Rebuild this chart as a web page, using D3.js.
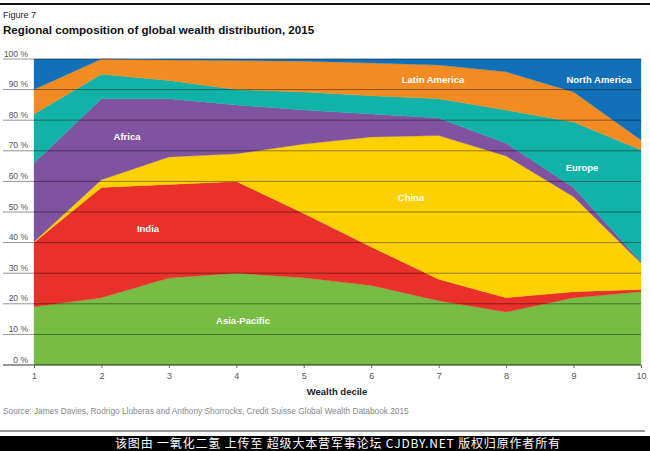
<!DOCTYPE html>
<html><head><meta charset="utf-8">
<script src="https://cdn.jsdelivr.net/npm/d3@7"></script>
<style>
html,body{margin:0;padding:0;background:#fff;}
svg{display:block;font-family:"Liberation Sans",Arial,sans-serif;}
</style></head>
<body><svg id="c" width="650" height="451"></svg>
<script>
const deciles = [1,2,3,4,5,6,7,8,9,10];
const asiaPacific  = [19, 22, 28.4, 30, 28.5, 26, 21, 17.3, 22, 23.9];
const india        = [21, 36, 30.6, 30, 21, 12.6, 7, 4.7, 1.9, 0.8];
const china        = [0.3, 2.5, 9, 9, 22.7, 35.9, 47, 46.3, 31.1, 8.6];
const africa       = [25.7, 26.5, 19, 16, 11.1, 7.5, 5.7, 4.2, 3, 0.4];
const europe       = [16, 8, 6, 5, 5.9, 6, 6.3, 10.8, 21.4, 36.6];
const latinAmerica = [8, 5, 6.7, 9.5, 10.1, 10.7, 11, 12.5, 9.8, 3.2];
const northAmerica = [10, 0, 0.3, 0.5, 0.7, 1.3, 2, 4.2, 10.8, 26.5];
const seriesNames = ["Asia-Pacific","India","China","Africa","Europe","Latin America","North America"];
const yTicks = [0,10,20,30,40,50,60,70,80,90,100];

const seriesVals = [asiaPacific, india, china, africa, europe, latinAmerica, northAmerica];
const colors = ["#77bd43","#e8312a","#fdd000","#7f53a0","#11b2a8","#f28c22","#1170b8"];
const labelPos = [[243,320],[148,228],[411,197],[127,136],[582,167],[433,79],[599,79]];

const table = deciles.map((d,i)=>{
  const o = {decile:d};
  seriesNames.forEach((s,k)=>o[s]=seriesVals[k][i]);
  return o;
});

const svg = d3.select("#c");
const x = d3.scaleLinear().domain([1,10]).range([34,641]);
const y = d3.scaleLinear().domain([0,100]).range([365,59]);

// top rule
svg.append("rect").attr("x",0).attr("y",3).attr("width",650).attr("height",2).attr("fill","#111");
svg.append("text").attr("x",3).attr("y",18).attr("font-size",9).attr("fill","#222").text("Figure 7");
svg.append("text").attr("x",3).attr("y",34).attr("font-size",11.6).attr("font-weight","bold").attr("fill","#111")
  .text("Regional composition of global wealth distribution, 2015");

const stack = d3.stack().keys(seriesNames);
const layers = stack(table);
const area = d3.area().x(d=>x(d.data.decile)).y0(d=>y(d[0])).y1(d=>y(d[1]));
svg.append("g").selectAll("path").data(layers).join("path")
  .attr("d",area).attr("fill",(d,i)=>colors[i]).attr("stroke",(d,i)=>colors[i]).attr("stroke-width",0.3);

// gridlines
const g = svg.append("g");
yTicks.forEach(t=>{
  g.append("line").attr("x1",3).attr("x2",641).attr("y1",y(t)).attr("y2",y(t))
    .attr("stroke","#000").attr("stroke-opacity",t===0?0.8:0.42).attr("stroke-width",t===0?1.2:1);
  g.append("text").attr("x",28).attr("y",y(t)-2.5).attr("text-anchor","end")
    .attr("font-size",8.5).attr("fill","#555").text(t+" %");
});

// x axis
const xa = svg.append("g").attr("transform","translate(0,365)")
  .call(d3.axisBottom(x).tickValues(deciles).tickSize(3).tickFormat(d3.format("d")));
xa.select(".domain").remove();
xa.selectAll("line").attr("stroke","#666");
xa.selectAll("text").attr("font-size",9).attr("fill","#555").attr("font-family","Liberation Sans, Arial, sans-serif").attr("dy","0.9em");

svg.append("text").attr("x",337).attr("y",395).attr("text-anchor","middle").attr("font-size",9.5)
  .attr("font-weight","bold").attr("fill","#222").text("Wealth decile");

// series labels
svg.append("g").selectAll("text").data(seriesNames).join("text")
  .attr("x",(d,i)=>labelPos[i][0]).attr("y",(d,i)=>labelPos[i][1]+3.5)
  .attr("text-anchor","middle").attr("font-size",9.5).attr("font-weight","bold").attr("fill","#fff").text(d=>d);

svg.append("text").attr("x",3).attr("y",414).attr("font-size",8.3).attr("fill","#888")
  .text("Source: James Davies, Rodrigo Lluberas and Anthony Shorrocks, Credit Suisse Global Wealth Databook 2015");

svg.append("line").attr("x1",0).attr("x2",645).attr("y1",431).attr("y2",431).attr("stroke","#333").attr("stroke-width",1);
svg.append("rect").attr("x",0).attr("y",436).attr("width",650).attr("height",15).attr("fill","#000");
svg.append("text").attr("x",115).attr("y",448).attr("font-size",12).attr("fill","#fff")
  .attr("textLength",445).attr("lengthAdjust","spacing")
  .attr("font-family","Noto Sans CJK SC, sans-serif").text("该图由 一氧化二氢 上传至 超级大本营军事论坛 CJDBY.NET 版权归原作者所有");
</script></body></html>
